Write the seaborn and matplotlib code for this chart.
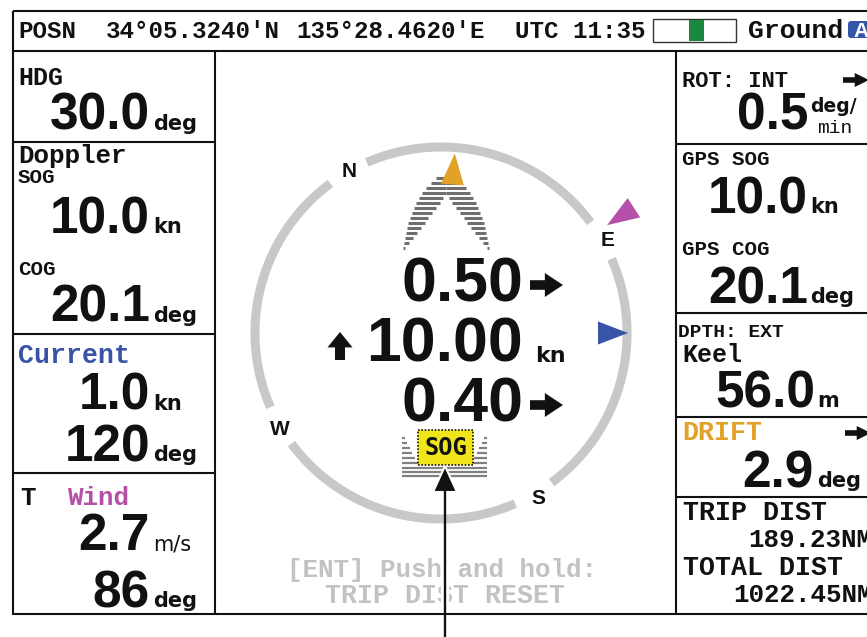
import numpy as np
import matplotlib
matplotlib.use("Agg")
import matplotlib.pyplot as plt
import seaborn as sns
from matplotlib.patches import Rectangle, Polygon, FancyBboxPatch

# ---- values ----
posn_lat = "34°05.3240'N"
posn_lon = "135°28.4620'E"
utc_time = "UTC 11:35"
nav_mode = "Ground"

hdg = "30.0"
doppler_sog = "10.0"
doppler_cog = "20.1"
current_speed = "1.0"
current_dir = "120"
wind_speed = "2.7"
wind_dir = "86"

rot_value = "0.5"
gps_sog = "10.0"
gps_cog = "20.1"
depth = "56.0"
drift = "2.9"
trip_dist = "189.23NM"
total_dist = "1022.45NM"

# speed vector: bow athwart, fore/aft, stern athwart
vector_values = ["0.50", "10.00", "0.40"]

heading = 30.0
compass_letters = ["N", "E", "S", "W"]
compass_bearings = [0, 90, 180, 270]

# direction markers on the compass ring (deg relative to ship's head)
marker_names = ["drift", "wind", "current"]
marker_angles = [4.4, 57, 90]
marker_colors = ["#e2a227", "#b64fa7", "#3953a6"]

# hatched speed fan above centre: row y, left band outer / inner x (mirrored)
fan_y = [178, 183, 188, 193, 198, 203, 208, 213, 218, 223, 228, 233, 238, 243, 248]
fan_outer = [436, 431, 426, 422, 419, 416, 414, 412, 410, 408, 407, 406, 405, 404, 403]
fan_inner = [446, 446, 446, 446, 443, 440, 436, 432, 428, 425, 421, 417, 413, 409, 405]

# stripes round the SOG tag: row y and length of the side dash
sog_y = [438, 443, 448, 453, 458, 463, 468, 472, 476]
sog_len = [3, 5, 8, 10, 13, 16, 43, 43, 43]

sns.set_theme(style="white")
plt.rcParams['font.family'] = ['DejaVu Sans']

INK = "#111111"
GRAY_TXT = "#c2c2c2"
MONO = "Liberation Mono"
NUM = "Liberation Sans"
UNIT = "DejaVu Sans"

fig = plt.figure(figsize=(8.67, 6.37), dpi=100)
ax = fig.add_axes([0, 0, 1, 1])
ax.set_xlim(0, 867)
ax.set_ylim(637, 0)
ax.axis('off')


def txt(x, y, s, size, family=MONO, weight='bold', color=INK, ha='left', va='baseline', z=5):
    ax.text(x, y, s, fontsize=size, family=family, fontweight=weight, color=color,
            ha=ha, va=va, zorder=z)


def big(xr, y, s, size=37):
    txt(xr, y, s, size, family=NUM, ha='right')


def unit(x, y, s, size=15, weight='bold'):
    txt(x, y, s, size, family=UNIT, weight=weight)


def block_arrow(x0, y0, length, width, ang, color=INK):
    a = np.radians(ang)
    d = np.array([np.cos(a), -np.sin(a)])
    n = np.array([np.sin(a), np.cos(a)])
    sw, hw, hl = width * 0.2, width / 2, length * 0.45
    local = [(0, -sw), (hl, -sw), (hl, -hw), (length, 0), (hl, hw), (hl, sw), (0, sw)]
    pts = [np.array([x0, y0]) + u * d + v * n for u, v in local]
    ax.add_patch(Polygon(pts, closed=True, fc=color, ec='none', zorder=6))


# ---- frame ----
lw = 1.5
ax.add_patch(Rectangle((13, 11), 880, 40, fill=False, ec=INK, lw=lw, zorder=3))
ax.plot([13, 867], [614, 614], color=INK, lw=lw, zorder=3)
ax.plot([13, 13], [51, 614], color=INK, lw=lw, zorder=3)
ax.plot([215, 215], [51, 614], color=INK, lw=lw, zorder=3)
ax.plot([676, 676], [51, 614], color=INK, lw=lw, zorder=3)
for y in [142, 334, 473]:
    ax.plot([13, 215], [y, y], color=INK, lw=lw, zorder=3)
for y in [144, 313, 417, 497]:
    ax.plot([676, 867], [y, y], color=INK, lw=lw, zorder=3)

# ---- top bar ----
txt(18, 38, "POSN", 17.4)
txt(106, 38, posn_lat, 17.4)
txt(296, 38, posn_lon, 17.4)
txt(515, 38, utc_time, 17.4)
ax.add_patch(Rectangle((653, 19), 83, 23, fc='white', ec='#333333', lw=1, zorder=4))
ax.add_patch(Rectangle((689, 20), 15, 21, fc='#19893d', ec='none', zorder=5))
txt(748, 38, nav_mode, 19)
ax.add_patch(FancyBboxPatch((848, 21), 22, 17, boxstyle="round,pad=0,rounding_size=3",
                            fc='#3556a8', ec='none', zorder=5))
txt(853, 37, "A", 15, family=NUM, color='white', z=6)

# ---- left panel ----
txt(18, 85, "HDG", 18)
big(150, 130, hdg)
unit(153, 130, "deg")

txt(18, 163, "Doppler", 18.6)
txt(18, 183, "SOG", 15)
big(150, 233, doppler_sog)
unit(153, 233, "kn")
txt(18, 275, "COG", 15)
big(150, 322, doppler_cog)
unit(153, 322, "deg")

txt(18, 363, "Current", 19.2, color="#3953a6")
big(150, 410, current_speed)
unit(153, 410, "kn")
big(150, 461, current_dir)
unit(153, 461, "deg")

txt(20, 505, "T", 18.6)
txt(68, 505, "Wind", 18.6, color="#b64fa7")
big(150, 550, wind_speed)
unit(153, 550, "m/s", weight='normal')
big(150, 607, wind_dir)
unit(153, 607, "deg")

# ---- right panel ----
txt(682, 87, "ROT: INT", 15.9)
block_arrow(843, 80, 26, 14, 0)
big(808, 130, rot_value)
unit(810, 112, "deg/", size=13.5)
txt(817, 133, "min", 14, weight='normal')

txt(682, 165, "GPS SOG", 15)
big(808, 213, gps_sog)
unit(810, 213, "kn")
txt(682, 255, "GPS COG", 15)
big(808, 303, gps_cog)
unit(810, 303, "deg")

txt(678, 337, "DPTH: EXT", 14)
txt(682, 362, "Keel", 18)
big(815, 407, depth)
unit(817, 407, "m")

txt(682, 440, "DRIFT", 19.2, color="#e2a227")
block_arrow(845, 433, 26, 14, 0)
big(813, 487, drift)
unit(817, 487, "deg")

txt(683, 520, "TRIP DIST", 19.2)
txt(748, 547, trip_dist, 18.6)
txt(683, 575, "TOTAL DIST", 19.2)
txt(733, 602, total_dist, 18.6)

# ---- compass ring ----
cx, cy, R = 441, 333, 186
gap = 6.5
letter_ang = [b - heading for b in compass_bearings]
for i in range(4):
    a0 = letter_ang[i] + gap
    a1 = letter_ang[(i + 1) % 4] - gap
    if a1 < a0:
        a1 += 360
    th = np.radians(np.linspace(a0, a1, 120))
    ax.plot(cx + R * np.sin(th), cy - R * np.cos(th), color='#c8c8c8', lw=6.5,
            solid_capstyle='butt', zorder=2)
for lab, a in zip(compass_letters, letter_ang):
    t = np.radians(a)
    txt(cx + 3 + 189 * np.sin(t), cy + 2 - 189 * np.cos(t), lab, 15, family=NUM,
        ha='center', va='center')

# hatched fan
fc = 446
for y, xo, xi in zip(fan_y, fan_outer, fan_inner):
    ax.plot([xo, xi], [y, y], color='#6f6f6f', lw=2.2, solid_capstyle='butt', zorder=3)
    ax.plot([2 * fc - xi, 2 * fc - xo], [y, y], color='#6f6f6f', lw=2.2,
            solid_capstyle='butt', zorder=3)

# direction markers: drift & current point outward inside ring, wind points inward outside
tri_geom = {"drift": (180, 149), "wind": (198, 230), "current": (187, 157)}
for name, a, col in zip(marker_names, marker_angles, marker_colors):
    r_tip, r_base = tri_geom[name]
    t = np.radians(a)
    u = np.array([np.sin(t), -np.cos(t)])
    v = np.array([np.cos(t), np.sin(t)])
    c = np.array([cx, cy])
    pts = [c + r_tip * u, c + r_base * u + 11.5 * v, c + r_base * u - 11.5 * v]
    ax.add_patch(Polygon(pts, closed=True, fc=col, ec='none', zorder=6))

# ---- speed vector readout ----
big(523, 302, vector_values[0], size=45)
block_arrow(530, 285, 33, 24, 0)
big(523, 362, vector_values[1], size=45)
unit(535, 362, "kn", size=16)
block_arrow(340, 360, 28, 25, 90)
big(523, 422, vector_values[2], size=45)
block_arrow(530, 405, 33, 24, 0)

# SOG tag
for y, L in zip(sog_y, sog_len):
    ax.plot([402, 402 + L], [y, y], color='#808080', lw=1.6, solid_capstyle='butt', zorder=3)
    ax.plot([487 - L, 487], [y, y], color='#808080', lw=1.6, solid_capstyle='butt', zorder=3)
ax.add_patch(Rectangle((418, 430), 55, 35, fc='#f0e51a', ec=INK, lw=1.2,
                       ls=(0, (1, 1)), zorder=5))
txt(445.5, 448, "SOG", 17, family="DejaVu Sans Mono", ha='center', va='center', z=6)

# hint text
txt(287, 577, "[ENT] Push and hold:", 18.6, color=GRAY_TXT)
txt(325, 603, "TRIP DIST RESET", 19.2, color=GRAY_TXT)

# pointer arrow
ax.plot([445, 445], [548, 608], color='white', lw=6, zorder=7)
ax.add_patch(Polygon([(445, 466), (433, 492), (457, 492)], closed=True, fc=INK,
                     ec='white', lw=1.5, zorder=8))
ax.plot([445, 445], [490, 637], color=INK, lw=1.7, zorder=8)

fig.savefig('out.png', dpi=100)
